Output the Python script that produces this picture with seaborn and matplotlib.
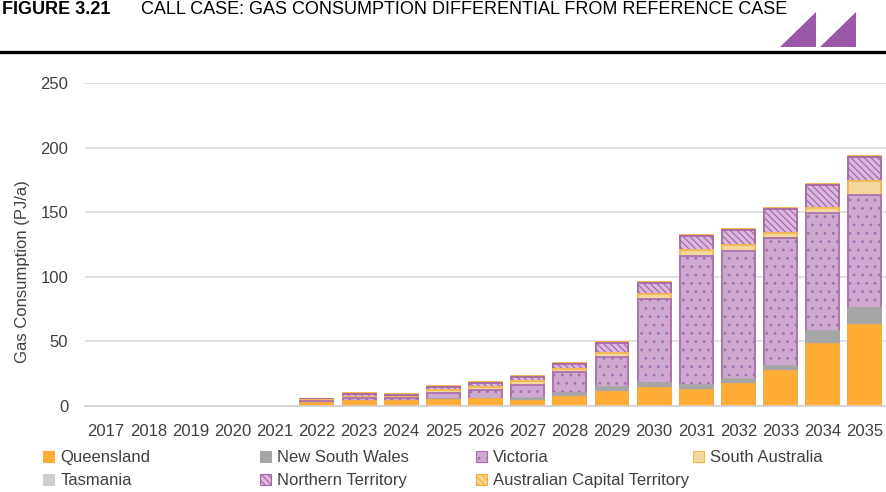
import numpy as np
import pandas as pd
import seaborn as sns
import matplotlib.pyplot as plt
from matplotlib.patches import Patch, Polygon
from matplotlib.lines import Line2D

sns.set_theme(style="white")
plt.rcParams["font.family"] = ["Liberation Sans", "DejaVu Sans"]
plt.rcParams["hatch.linewidth"] = 0.8

years = [str(y) for y in range(2017, 2036)]
queensland = [0, 0, 0, 0, 0, 2.0, 3.5, 3.5, 4.6, 5.2, 3.9, 7.2, 11.0, 14.0, 12.0, 17.3, 27.4, 47.8, 62.8]
new_south_wales = [0, 0, 0, 0, 0, 0.3, 0.3, 0.3, 0.5, 0.6, 2.6, 2.6, 3.5, 4.0, 4.6, 3.6, 3.9, 10.6, 12.7]
victoria = [0, 0, 0, 0, 0, 1.8, 2.5, 2.5, 5.2, 6.6, 10.0, 16.5, 23.5, 64.5, 99.8, 99.0, 98.7, 91.0, 87.8]
south_australia = [0, 0, 0, 0, 0, 0.3, 1.0, 0.8, 2.0, 2.3, 2.6, 2.3, 3.0, 4.0, 4.1, 4.4, 3.9, 3.6, 10.9]
tasmania = [0] * 19
northern_territory = [0, 0, 0, 0, 0, 0.8, 2.0, 1.7, 2.3, 2.8, 3.1, 3.9, 8.0, 9.0, 11.0, 12.1, 18.8, 18.1, 18.6]
act = [0, 0, 0, 0, 0, 0.3, 0.5, 0.5, 0.8, 0.8, 0.8, 1.0, 0.7, 0.7, 0.7, 0.8, 0.8, 0.7, 0.7]

series = [
    ("Queensland", queensland, dict(facecolor="#FFAD36", edgecolor="#FFAD36", hatch=None)),
    ("New South Wales", new_south_wales, dict(facecolor="#A6A6A6", edgecolor="#A6A6A6", hatch=None)),
    ("Victoria", victoria, dict(facecolor="#CDA9D0", edgecolor="#A86BB0", hatch="..")),
    ("South Australia", south_australia, dict(facecolor="#F3D89E", edgecolor="#F8B447", hatch=None)),
    ("Tasmania", tasmania, dict(facecolor="#D0D0D0", edgecolor="#D0D0D0", hatch=None)),
    ("Northern Territory", northern_territory, dict(facecolor="#D9B8DC", edgecolor="#A263AB", hatch="\\\\\\\\\\")),
    ("Australian Capital Territory", act, dict(facecolor="#F6D99A", edgecolor="#F5A833", hatch="\\\\\\\\\\")),
]

df = pd.DataFrame({name: vals for name, vals, _ in series}, index=years)
cum = df.cumsum(axis=1)

fig = plt.figure(figsize=(8.86, 4.92), dpi=100)
ax = fig.add_axes([0.096, 0.1748, 0.904, 0.6565])

# stacked bars: draw cumulative totals from the top layer down
for name, vals, st in reversed(series):
    sns.barplot(x=years, y=cum[name].values, ax=ax, color=st["facecolor"],
                saturation=1, width=0.78, errorbar=None,
                edgecolor=st["edgecolor"], linewidth=1.2, hatch=st["hatch"])

for p in ax.patches:
    if p.get_height() <= 0:
        p.set_linewidth(0)

ax.set_ylim(0, 250)
ax.set_xlim(-0.5, 18.5)
ax.set_yticks([0, 50, 100, 150, 200, 250])
ax.yaxis.grid(True, color="#D9D9D9", linewidth=1.1)
ax.set_axisbelow(True)
for s in ["top", "right", "left"]:
    ax.spines[s].set_visible(False)
ax.spines["bottom"].set_color("#D0D0D0")
ax.spines["bottom"].set_linewidth(1.2)
ax.tick_params(axis="both", length=0, labelsize=12, colors="#404040")
ax.tick_params(axis="y", pad=12)
ax.tick_params(axis="x", pad=13)
ax.set_xlabel("")
ax.set_ylabel("Gas Consumption (PJ/a)", fontsize=12, color="#404040")
ax.yaxis.set_label_coords(-0.069, 0.415)

# legend in four fixed columns
handles = [Patch(facecolor=st["facecolor"], edgecolor=st["edgecolor"], hatch=st["hatch"], linewidth=0.8)
           for _, _, st in series]
labels = [name for name, _, _ in series]
cols = [[0, 4], [1, 5], [2, 6], [3]]
col_x = [43, 260, 476, 693]
for xs, idx in zip(col_x, cols):
    leg = fig.legend([handles[i] for i in idx], [labels[i] for i in idx],
                     loc="upper left", bbox_to_anchor=(xs / 886, 1 - 450 / 492),
                     frameon=False, fontsize=12, handlelength=0.65, handleheight=0.65,
                     handletextpad=0.38, labelspacing=0.5, borderaxespad=0, borderpad=0)
    for t in leg.get_texts():
        t.set_color("#404040")

# header band
fig.text(2 / 886, 1 - 14 / 492, "FIGURE 3.21", fontsize=13, fontweight="bold",
         va="baseline", ha="left", color="black")
fig.text(141 / 886, 1 - 14 / 492, "CALL CASE: GAS CONSUMPTION DIFFERENTIAL FROM REFERENCE CASE",
         fontsize=13, va="baseline", ha="left", color="black")
fig.add_artist(Line2D([0, 1], [1 - 52 / 492, 1 - 52 / 492], color="black", linewidth=2.4,
                      transform=fig.transFigure))
for x0 in [780, 820]:
    tri = Polygon([[x0 / 886, 1 - 47 / 492], [(x0 + 36) / 886, 1 - 47 / 492],
                   [(x0 + 36) / 886, 1 - 12 / 492]], closed=True,
                  facecolor="#9C58A8", edgecolor="none", transform=fig.transFigure)
    fig.add_artist(tri)

fig.savefig("out.png", dpi=100)
